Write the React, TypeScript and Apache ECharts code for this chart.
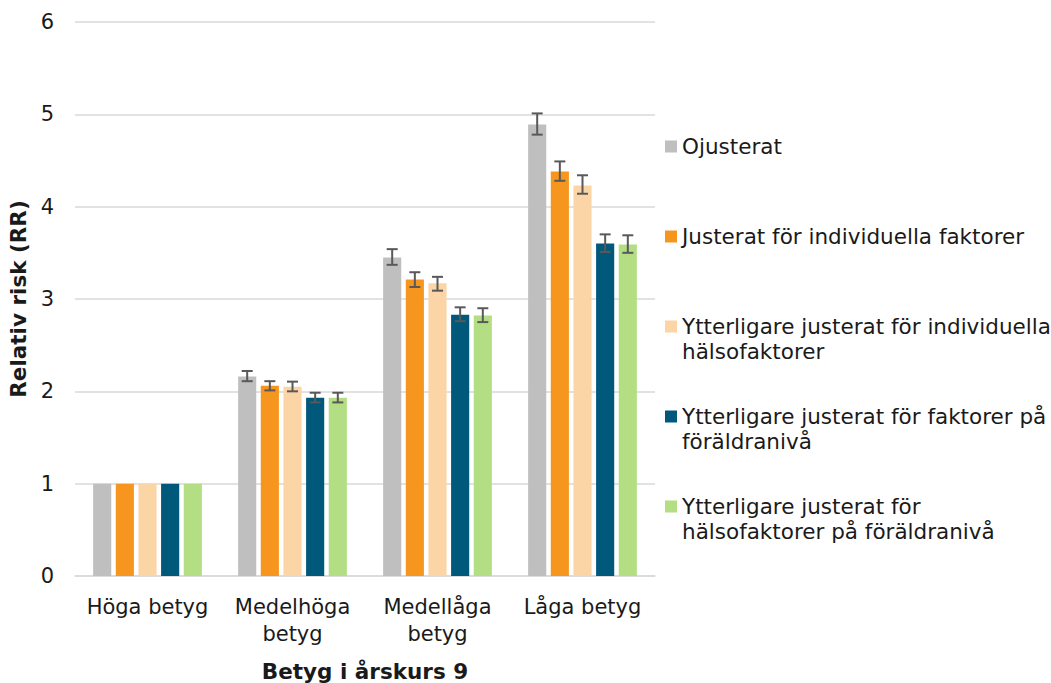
import React, { useEffect, useRef } from "react";
import * as echarts from "echarts";

const CATEGORIES = ["Höga betyg", "Medelhöga\nbetyg", "Medellåga\nbetyg", "Låga betyg"];

const SERIES_NAMES = [
  "Ojusterat",
  "Justerat för individuella faktorer",
  "Ytterligare justerat för individuella hälsofaktorer",
  "Ytterligare justerat för faktorer på föräldranivå",
  "Ytterligare justerat för hälsofaktorer på föräldranivå",
];

const LEGEND_LABELS = [
  "Ojusterat",
  "Justerat för individuella faktorer",
  "Ytterligare justerat för individuella\nhälsofaktorer",
  "Ytterligare justerat för faktorer på\nföräldranivå",
  "Ytterligare justerat för\nhälsofaktorer på föräldranivå",
];

const COLORS = ["#bfbfbf", "#f7961e", "#fcd5a6", "#00587a", "#b3de84"];

const OJUSTERAT = [1, 2.16, 3.45, 4.89];
const INDIVIDUELLA = [1, 2.06, 3.21, 4.38];
const HALSO = [1, 2.05, 3.17, 4.23];
const FORALDRA = [1, 1.93, 2.83, 3.6];
const HALSO_FORALDRA = [1, 1.93, 2.82, 3.59];

const OJUSTERAT_LOW = [null, 2.11, 3.37, 4.78];
const OJUSTERAT_HIGH = [null, 2.22, 3.54, 5.01];
const INDIVIDUELLA_LOW = [null, 2.01, 3.13, 4.28];
const INDIVIDUELLA_HIGH = [null, 2.11, 3.29, 4.49];
const HALSO_LOW = [null, 2.0, 3.09, 4.14];
const HALSO_HIGH = [null, 2.105, 3.24, 4.34];
const FORALDRA_LOW = [null, 1.88, 2.76, 3.51];
const FORALDRA_HIGH = [null, 1.985, 2.91, 3.7];
const HALSO_FORALDRA_LOW = [null, 1.88, 2.75, 3.5];
const HALSO_FORALDRA_HIGH = [null, 1.985, 2.9, 3.69];

const Y_TICKS = [0, 1, 2, 3, 4, 5, 6];

const VALUES = [OJUSTERAT, INDIVIDUELLA, HALSO, FORALDRA, HALSO_FORALDRA];
const LOWS = [OJUSTERAT_LOW, INDIVIDUELLA_LOW, HALSO_LOW, FORALDRA_LOW, HALSO_FORALDRA_LOW];
const HIGHS = [OJUSTERAT_HIGH, INDIVIDUELLA_HIGH, HALSO_HIGH, FORALDRA_HIGH, HALSO_FORALDRA_HIGH];

const FONT = "DejaVu Sans, Verdana, sans-serif";
const BAR_GAP = 0.25;
const CAT_GAP = 0.25;

export default function App() {
  const ref = useRef<HTMLDivElement>(null);

  useEffect(() => {
    if (!ref.current) return;
    const chart = echarts.init(ref.current, null, { renderer: "svg" });

    const errData: any[] = [];
    LOWS.forEach((lows, s) => {
      lows.forEach((lo, c) => {
        if (lo != null && HIGHS[s][c] != null) errData.push([c, s, lo, HIGHS[s][c]]);
      });
    });

    const n = SERIES_NAMES.length;
    const legendTops = [134, 224, 289, 379, 469];

    const option: any = {
      animation: false,
      textStyle: { fontFamily: FONT },
      grid: {
        left: 75,
        right: 396,
        top: 22,
        bottom: 107,
        containLabel: false,
        outerBoundsMode: "none",
      },
      legend: SERIES_NAMES.map((name, i) => {
        const twoLine = LEGEND_LABELS[i].indexOf("\n") >= 0;
        return {
          data: [name],
          left: 665,
          top: legendTops[i],
          padding: 0,
          orient: "vertical",
          icon: "rect",
          itemWidth: 12,
          itemHeight: 12,
          selectedMode: false,
          formatter: () => (twoLine ? "\n" + LEGEND_LABELS[i] : LEGEND_LABELS[i]),
          textStyle: {
            fontFamily: FONT,
            fontSize: 21.5,
            color: "#1a1a1a",
            lineHeight: 25,
          },
        };
      }),
      xAxis: {
        type: "category",
        data: CATEGORIES,
        name: "Betyg i årskurs 9",
        nameLocation: "middle",
        nameGap: 84,
        nameTextStyle: { fontFamily: FONT, fontSize: 21.5, fontWeight: "bold", color: "#1a1a1a" },
        axisLine: { show: true, lineStyle: { color: "#d9d9d9", width: 1.5 } },
        axisTick: { show: false },
        axisLabel: { fontFamily: FONT, fontSize: 21, color: "#1a1a1a", lineHeight: 27, margin: 17, interval: 0 },
      },
      yAxis: {
        type: "value",
        min: Y_TICKS[0],
        max: Y_TICKS[Y_TICKS.length - 1],
        interval: 1,
        name: "Relativ risk (RR)",
        nameLocation: "middle",
        nameGap: 42,
        nameRotate: 90,
        nameTextStyle: { fontFamily: FONT, fontSize: 21.5, fontWeight: "bold", color: "#1a1a1a" },
        axisLine: { show: false },
        axisTick: { show: false },
        axisLabel: { fontFamily: FONT, fontSize: 21, color: "#1a1a1a", margin: 21 },
        splitLine: { lineStyle: { color: "#d9d9d9", width: 1.5 } },
      },
      series: [
        ...SERIES_NAMES.map((name, i) => ({
          name,
          type: "bar",
          data: VALUES[i],
          barGap: `${BAR_GAP * 100}%`,
          barCategoryGap: `${CAT_GAP * 100}%`,
          itemStyle: { color: COLORS[i] },
        })),
        {
          name: "Konfidensintervall",
          type: "custom",
          z: 5,
          data: errData,
          encode: { x: 0, y: [2, 3] },
          renderItem: (_params: any, api: any) => {
            const cat = api.value(0);
            const s = api.value(1);
            const lo = api.value(2);
            const hi = api.value(3);
            const band = api.size([1, 0])[0];
            const bw = (band * (1 - CAT_GAP)) / (n + (n - 1) * BAR_GAP);
            const off = (s - (n - 1) / 2) * bw * (1 + BAR_GAP);
            const pLo = api.coord([cat, lo]);
            const pHi = api.coord([cat, hi]);
            const x = pLo[0] + off;
            const half = 5.5;
            const style = { stroke: "#595959", lineWidth: 2 };
            return {
              type: "group",
              children: [
                { type: "line", shape: { x1: x, y1: pHi[1], x2: x, y2: pLo[1] }, style },
                { type: "line", shape: { x1: x - half, y1: pHi[1], x2: x + half, y2: pHi[1] }, style },
                { type: "line", shape: { x1: x - half, y1: pLo[1], x2: x + half, y2: pLo[1] }, style },
              ],
            };
          },
        },
      ],
    };

    chart.setOption(option);
    return () => chart.dispose();
  }, []);

  return (
    <div
      ref={ref}
      style={{ position: "fixed", left: 0, top: 0, width: 1051, height: 683, background: "#ffffff" }}
    />
  );
}
